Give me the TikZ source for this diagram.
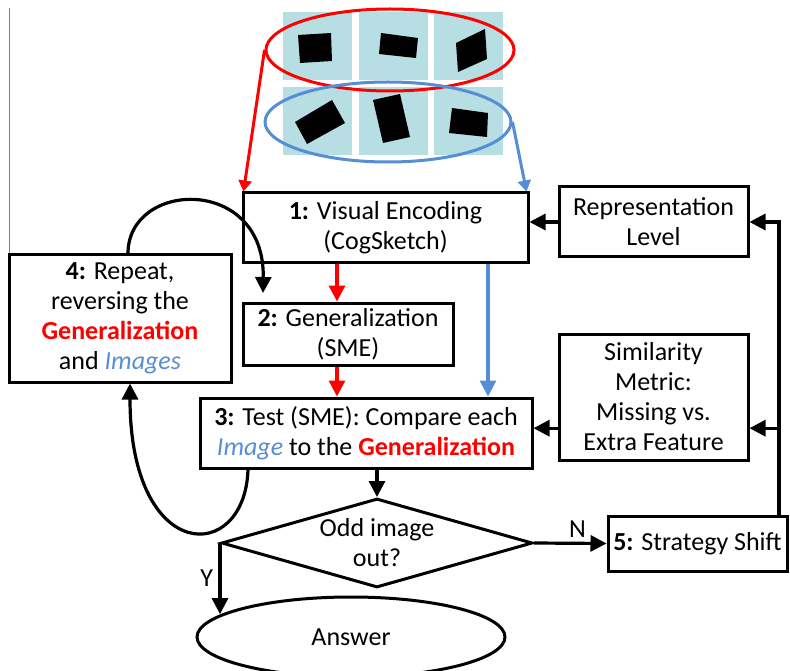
\documentclass[tikz,border=0pt]{standalone}
\usepackage{fontspec}
\setmainfont{Carlito}
\usetikzlibrary{shapes.geometric,arrows.meta}
\definecolor{tileblue}{RGB}{183,222,227}
\definecolor{imgblue}{RGB}{85,142,213}
\definecolor{genred}{RGB}{255,0,0}

\begin{document}
\begin{tikzpicture}[x=1pt,y=-1pt,
	every node/.style={font=\fontsize{26}{30}\selectfont},
	box/.style={draw,line width=3pt,align=center,inner sep=0pt},
	arr/.style={line width=3.2pt,-{Triangle[length=16pt,width=16pt]}},
	thinarr/.style={line width=3pt,-{Triangle[length=11pt,width=13pt]}}]
\clip (0,0) rectangle (790,671);
\draw[gray,line width=1pt] (9,8) -- (9,255);
\foreach \i in {0,1,2}
	\foreach \j in {0,1}
		\fill[tileblue] (283+\i*75.5,12+\j*75) rectangle ++(69,68);
\fill (298,35) -- (331,33) -- (332,61) -- (300,63) -- cycle;
\fill (381,33) -- (418,38) -- (416,58) -- (379,54) -- cycle;
\fill (456,43) -- (485,29) -- (487,59) -- (458,72) -- cycle;
\fill (295,122) -- (332,100) -- (345,123) -- (307,144) -- cycle;
\fill (373,100) -- (400,94) -- (410,137) -- (383,143) -- cycle;
\fill (452,108) -- (488,113) -- (487,137) -- (449,133) -- cycle;
\node[draw=genred,ellipse,line width=3pt,inner sep=0pt,minimum width=248pt,minimum height=82pt] (topset) at (390,50) {};
\node[draw=imgblue,ellipse,line width=3pt,inner sep=0pt,minimum width=246pt,minimum height=80pt] (botset) at (388,122) {};

\node[box,minimum width=285pt,minimum height=70pt] (enc) at (385.5,228) {\textbf{1:} Visual Encoding\\(CogSketch)};
\node[box,minimum width=210pt,minimum height=62pt] (gen) at (348,334) {\textbf{2:} Generalization\\(SME)};
\node[box,minimum width=332pt,minimum height=70pt] (test) at (366,433) {\textbf{3:} Test (SME): Compare each\\\textcolor{imgblue}{\textit{Image}} to the \textcolor{genred}{\textbf{Generalization}}};
\node[box,minimum width=222pt,minimum height=127pt] (again) at (120,318.5) {\textbf{4:} Repeat,\\reversing the\\\textcolor{genred}{\textbf{Generalization}}\\and \textcolor{imgblue}{\textit{Images}}};
\node[box,minimum width=189pt,minimum height=70pt] (replevel) at (653.5,222) {Representation\\Level};
\node[box,minimum width=189pt,minimum height=126pt] (simmetric) at (653.5,397) {Similarity\\Metric:\\Missing vs.\\Extra Feature};
\node[box,minimum width=179pt,minimum height=55pt] (shift) at (697.5,543.5) {\textbf{5:} Strategy Shift};
\node[box,diamond,shape aspect=3.5,minimum width=311pt,minimum height=89pt] (odd) at (377,543) {Odd image\\out?};
\node[box,ellipse,minimum width=308pt,minimum height=80pt] (answer) at (351,637) {Answer};
\coordinate (trunk) at (779,220);
\coordinate (loopend) at (263,293);
\coordinate (redline) at (337,0);
\coordinate (blueline) at (488,0);

\draw[thinarr,genred] (topset.west) -- ([xshift=2pt]enc.north west);
\draw[thinarr,imgblue] (botset.east) -- ([xshift=-3pt]enc.north east);
\draw[arr,genred] (redline |- enc.south) -- (redline |- gen.north);
\draw[arr,genred] (redline |- gen.south) -- (redline |- test.north);
\draw[arr,imgblue] (blueline |- enc.south) -- (blueline |- test.north);
\draw[arr] (odd.north |- test.south) -- (odd.north);
\draw[arr] (odd.west) -- (odd.west |- answer.170) node[midway,left=2pt] {Y};
\draw[arr] (odd.east) -- (shift.west) node[pos=0.6,above=1pt] {N};
\draw[line width=3.2pt] (trunk |- shift.north) -- (trunk);
\draw[arr] (trunk |- replevel.east) -- (replevel.east);
\draw[arr] (trunk |- simmetric.-18) -- (simmetric.-18);
\draw[arr] (replevel.west) -- (replevel.west -| enc.east);
\draw[arr] (simmetric.198) -- (simmetric.198 -| test.east);
\draw[arr] ([xshift=8pt]again.north) .. controls (128,180) and (265,175) .. (loopend);
\draw[arr] ([xshift=-118pt]test.south) .. controls (245,565) and (130,565) .. ([xshift=10pt]again.south);
\end{tikzpicture}
\end{document}
